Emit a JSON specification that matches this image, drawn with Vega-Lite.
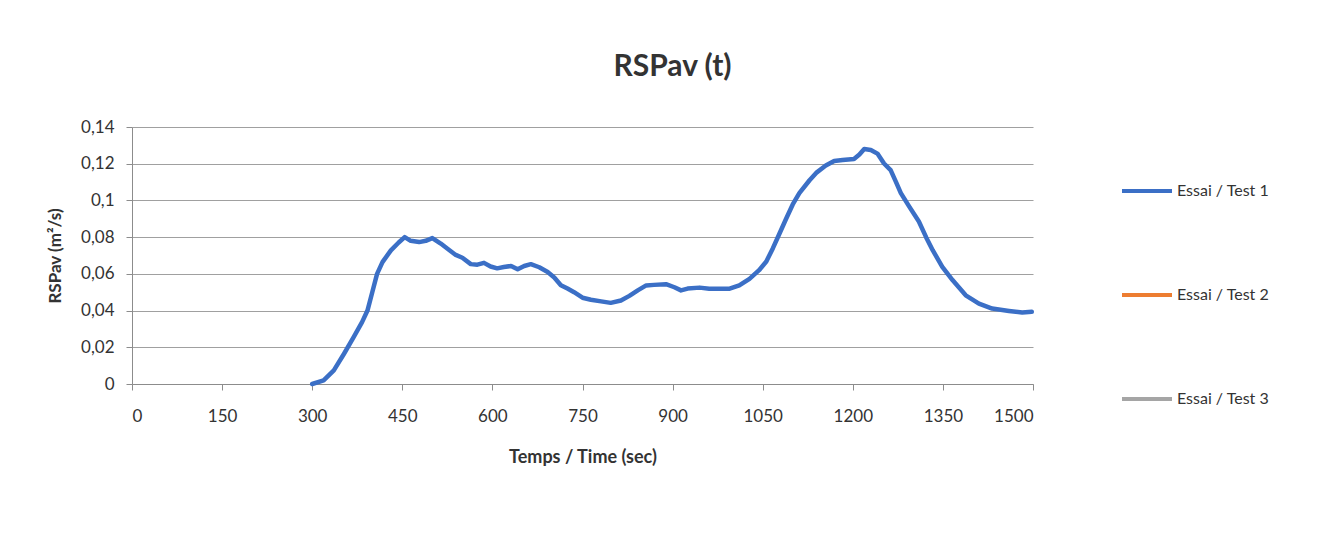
{
  "$schema": "https://vega.github.io/schema/vega-lite/v6.json",
  "autosize": "none",
  "width": 901,
  "height": 257,
  "padding": {"left": 132, "top": 127, "right": 309, "bottom": 156},
  "background": "white",
  "title": {
    "text": "RSPav (t)",
    "fontSize": 30,
    "font": "Lato",
    "fontWeight": "bold",
    "color": "#333333",
    "anchor": "middle",
    "dx": 90,
    "offset": 36
  },
  "data": {
    "values": [
      {"t": 300, "v": 0, "s": "Essai / Test 1"},
      {"t": 319, "v": 0.002, "s": "Essai / Test 1"},
      {"t": 336, "v": 0.0074, "s": "Essai / Test 1"},
      {"t": 353, "v": 0.0165, "s": "Essai / Test 1"},
      {"t": 369, "v": 0.0255, "s": "Essai / Test 1"},
      {"t": 383, "v": 0.0337, "s": "Essai / Test 1"},
      {"t": 392, "v": 0.040, "s": "Essai / Test 1"},
      {"t": 400, "v": 0.050, "s": "Essai / Test 1"},
      {"t": 408, "v": 0.060, "s": "Essai / Test 1"},
      {"t": 417, "v": 0.0664, "s": "Essai / Test 1"},
      {"t": 431, "v": 0.0728, "s": "Essai / Test 1"},
      {"t": 444, "v": 0.0771, "s": "Essai / Test 1"},
      {"t": 454, "v": 0.0800, "s": "Essai / Test 1"},
      {"t": 464, "v": 0.078, "s": "Essai / Test 1"},
      {"t": 478, "v": 0.0773, "s": "Essai / Test 1"},
      {"t": 489, "v": 0.078, "s": "Essai / Test 1"},
      {"t": 500, "v": 0.0795, "s": "Essai / Test 1"},
      {"t": 514, "v": 0.0765, "s": "Essai / Test 1"},
      {"t": 528, "v": 0.073, "s": "Essai / Test 1"},
      {"t": 539, "v": 0.0703, "s": "Essai / Test 1"},
      {"t": 550, "v": 0.0688, "s": "Essai / Test 1"},
      {"t": 564, "v": 0.0653, "s": "Essai / Test 1"},
      {"t": 575, "v": 0.065, "s": "Essai / Test 1"},
      {"t": 586, "v": 0.066, "s": "Essai / Test 1"},
      {"t": 597, "v": 0.064, "s": "Essai / Test 1"},
      {"t": 608, "v": 0.063, "s": "Essai / Test 1"},
      {"t": 619, "v": 0.0637, "s": "Essai / Test 1"},
      {"t": 631, "v": 0.0643, "s": "Essai / Test 1"},
      {"t": 642, "v": 0.0625, "s": "Essai / Test 1"},
      {"t": 653, "v": 0.0643, "s": "Essai / Test 1"},
      {"t": 664, "v": 0.0653, "s": "Essai / Test 1"},
      {"t": 678, "v": 0.0636, "s": "Essai / Test 1"},
      {"t": 692, "v": 0.061, "s": "Essai / Test 1"},
      {"t": 703, "v": 0.058, "s": "Essai / Test 1"},
      {"t": 714, "v": 0.0538, "s": "Essai / Test 1"},
      {"t": 725, "v": 0.052, "s": "Essai / Test 1"},
      {"t": 736, "v": 0.050, "s": "Essai / Test 1"},
      {"t": 750, "v": 0.047, "s": "Essai / Test 1"},
      {"t": 764, "v": 0.0459, "s": "Essai / Test 1"},
      {"t": 781, "v": 0.045, "s": "Essai / Test 1"},
      {"t": 797, "v": 0.0442, "s": "Essai / Test 1"},
      {"t": 814, "v": 0.0455, "s": "Essai / Test 1"},
      {"t": 828, "v": 0.048, "s": "Essai / Test 1"},
      {"t": 842, "v": 0.051, "s": "Essai / Test 1"},
      {"t": 856, "v": 0.0537, "s": "Essai / Test 1"},
      {"t": 869, "v": 0.054, "s": "Essai / Test 1"},
      {"t": 889, "v": 0.0544, "s": "Essai / Test 1"},
      {"t": 903, "v": 0.0527, "s": "Essai / Test 1"},
      {"t": 914, "v": 0.051, "s": "Essai / Test 1"},
      {"t": 925, "v": 0.052, "s": "Essai / Test 1"},
      {"t": 945, "v": 0.0525, "s": "Essai / Test 1"},
      {"t": 961, "v": 0.0519, "s": "Essai / Test 1"},
      {"t": 995, "v": 0.0519, "s": "Essai / Test 1"},
      {"t": 1011, "v": 0.0537, "s": "Essai / Test 1"},
      {"t": 1028, "v": 0.0573, "s": "Essai / Test 1"},
      {"t": 1044, "v": 0.062, "s": "Essai / Test 1"},
      {"t": 1056, "v": 0.0667, "s": "Essai / Test 1"},
      {"t": 1067, "v": 0.074, "s": "Essai / Test 1"},
      {"t": 1078, "v": 0.082, "s": "Essai / Test 1"},
      {"t": 1089, "v": 0.090, "s": "Essai / Test 1"},
      {"t": 1100, "v": 0.0978, "s": "Essai / Test 1"},
      {"t": 1111, "v": 0.104, "s": "Essai / Test 1"},
      {"t": 1128, "v": 0.111, "s": "Essai / Test 1"},
      {"t": 1139, "v": 0.115, "s": "Essai / Test 1"},
      {"t": 1155, "v": 0.119, "s": "Essai / Test 1"},
      {"t": 1169, "v": 0.1215, "s": "Essai / Test 1"},
      {"t": 1183, "v": 0.122, "s": "Essai / Test 1"},
      {"t": 1202, "v": 0.1226, "s": "Essai / Test 1"},
      {"t": 1211, "v": 0.125, "s": "Essai / Test 1"},
      {"t": 1219, "v": 0.128, "s": "Essai / Test 1"},
      {"t": 1230, "v": 0.1275, "s": "Essai / Test 1"},
      {"t": 1241, "v": 0.1255, "s": "Essai / Test 1"},
      {"t": 1252, "v": 0.1201, "s": "Essai / Test 1"},
      {"t": 1263, "v": 0.1165, "s": "Essai / Test 1"},
      {"t": 1272, "v": 0.110, "s": "Essai / Test 1"},
      {"t": 1280, "v": 0.104, "s": "Essai / Test 1"},
      {"t": 1294, "v": 0.0966, "s": "Essai / Test 1"},
      {"t": 1310, "v": 0.0885, "s": "Essai / Test 1"},
      {"t": 1322, "v": 0.080, "s": "Essai / Test 1"},
      {"t": 1333, "v": 0.0729, "s": "Essai / Test 1"},
      {"t": 1349, "v": 0.0638, "s": "Essai / Test 1"},
      {"t": 1366, "v": 0.0566, "s": "Essai / Test 1"},
      {"t": 1388, "v": 0.0483, "s": "Essai / Test 1"},
      {"t": 1410, "v": 0.0438, "s": "Essai / Test 1"},
      {"t": 1432, "v": 0.0411, "s": "Essai / Test 1"},
      {"t": 1460, "v": 0.0398, "s": "Essai / Test 1"},
      {"t": 1482, "v": 0.0389, "s": "Essai / Test 1"},
      {"t": 1498, "v": 0.0393, "s": "Essai / Test 1"}
    ]
  },
  "mark": {"type": "line", "strokeWidth": 4.5, "strokeJoin": "round", "strokeCap": "round"},
  "encoding": {
    "x": {
      "field": "t",
      "type": "quantitative",
      "scale": {"domain": [0, 1500], "nice": false},
      "axis": {
        "title": "Temps / Time (sec)",
        "values": [0, 150, 300, 450, 600, 750, 900, 1050, 1200, 1350, 1500],
        "format": "d",
        "grid": false,
        "tickSize": 6,
        "labelPadding": 18,
        "titlePadding": 24,
        "titleFontSize": 18
      }
    },
    "y": {
      "field": "v",
      "type": "quantitative",
      "scale": {"domain": [0, 0.14], "nice": false},
      "axis": {
        "title": "RSPav (m²/s)",
        "values": [0, 0.02, 0.04, 0.06, 0.08, 0.1, 0.12, 0.14],
        "labelExpr": "replace(format(datum.value, '.2~f'), '.', ',')",
        "grid": true,
        "tickSize": 6,
        "labelPadding": 12,
        "titlePadding": 16,
        "titleFontSize": 17
      }
    },
    "color": {
      "field": "s",
      "type": "nominal",
      "scale": {
        "domain": ["Essai / Test 1", "Essai / Test 2", "Essai / Test 3"],
        "range": ["#3b6fc6", "#ed7d31", "#a5a5a5"]
      },
      "legend": {
        "title": null,
        "orient": "none",
        "legendX": 988,
        "legendY": 37,
        "symbolType": "stroke",
        "symbolSize": 2500,
        "symbolStrokeWidth": 4,
        "labelFontSize": 16,
        "labelFont": "Lato",
        "labelColor": "#333333",
        "labelOffset": 3,
        "rowPadding": 69
      }
    }
  },
  "config": {
    "view": {"stroke": null},
    "axis": {
      "labelFont": "Lato",
      "labelFontSize": 17,
      "labelColor": "#333333",
      "titleFont": "Lato",
      "titleFontWeight": "bold",
      "titleColor": "#333333",
      "domainColor": "#8c8c8c",
      "tickColor": "#8c8c8c",
      "gridColor": "#a0a0a0",
      "gridWidth": 1
    }
  }
}
